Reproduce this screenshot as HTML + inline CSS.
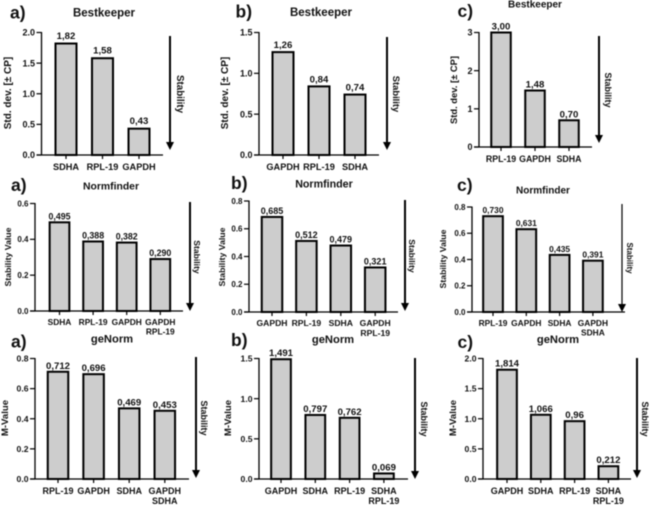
<!DOCTYPE html>
<html>
<head>
<meta charset="utf-8">
<style>
html,body{margin:0;padding:0;background:#fff;width:650px;height:505px;overflow:hidden}
svg{display:block;filter:blur(0.45px)}
text{font-family:"Liberation Sans",sans-serif;fill:#111}
</style>
</head>
<body>
<svg id="figure" xmlns="http://www.w3.org/2000/svg" width="650" height="505" viewBox="0 0 650 505"></svg>
<script>
// Chart data
const bestkeeperACategories = ["SDHA", "RPL-19", "GAPDH"];
const bestkeeperAValues = [1.82, 1.58, 0.43];
const bestkeeperALabels = ["1,82", "1,58", "0,43"];
const bestkeeperATicks = [0, 0.5, 1, 1.5, 2];
const bestkeeperATickLabels = ["0.0", "0.5", "1.0", "1.5", "2.0"];

const bestkeeperBCategories = ["GAPDH", "RPL-19", "SDHA"];
const bestkeeperBValues = [1.26, 0.84, 0.74];
const bestkeeperBLabels = ["1,26", "0,84", "0,74"];
const bestkeeperBTicks = [0, 0.5, 1, 1.5];
const bestkeeperBTickLabels = ["0.0", "0.5", "1.0", "1.5"];

const bestkeeperCCategories = ["RPL-19", "GAPDH", "SDHA"];
const bestkeeperCValues = [3.0, 1.48, 0.70];
const bestkeeperCLabels = ["3,00", "1,48", "0,70"];
const bestkeeperCTicks = [0, 1, 2, 3];
const bestkeeperCTickLabels = ["0", "1", "2", "3"];

const normfinderACategories = ["SDHA", "RPL-19", "GAPDH", "GAPDH|RPL-19"];
const normfinderAValues = [0.495, 0.388, 0.382, 0.290];
const normfinderALabels = ["0,495", "0,388", "0,382", "0,290"];
const normfinderATicks = [0, 0.2, 0.4, 0.6];
const normfinderATickLabels = ["0.0", "0.2", "0.4", "0.6"];

const normfinderBCategories = ["GAPDH", "RPL-19", "SDHA", "GAPDH|RPL-19"];
const normfinderBValues = [0.685, 0.512, 0.479, 0.321];
const normfinderBLabels = ["0,685", "0,512", "0,479", "0,321"];
const normfinderBTicks = [0, 0.2, 0.4, 0.6, 0.8];
const normfinderBTickLabels = ["0.0", "0.2", "0.4", "0.6", "0.8"];

const normfinderCCategories = ["RPL-19", "GAPDH", "SDHA", "GAPDH|SDHA"];
const normfinderCValues = [0.730, 0.631, 0.435, 0.391];
const normfinderCLabels = ["0,730", "0,631", "0,435", "0,391"];
const normfinderCTicks = [0, 0.2, 0.4, 0.6, 0.8];
const normfinderCTickLabels = ["0.0", "0.2", "0.4", "0.6", "0.8"];

const genormACategories = ["RPL-19", "GAPDH", "SDHA", "GAPDH|SDHA"];
const genormAValues = [0.712, 0.696, 0.469, 0.453];
const genormALabels = ["0,712", "0,696", "0,469", "0,453"];
const genormATicks = [0, 0.2, 0.4, 0.6, 0.8];
const genormATickLabels = ["0.0", "0.2", "0.4", "0.6", "0.8"];

const genormBCategories = ["GAPDH", "SDHA", "RPL-19", "SDHA|RPL-19"];
const genormBValues = [1.491, 0.797, 0.762, 0.069];
const genormBLabels = ["1,491", "0,797", "0,762", "0,069"];
const genormBTicks = [0, 0.5, 1, 1.5];
const genormBTickLabels = ["0.0", "0.5", "1.0", "1.5"];

const genormCCategories = ["GAPDH", "SDHA", "RPL-19", "SDHA|RPL-19"];
const genormCValues = [1.814, 1.066, 0.96, 0.212];
const genormCLabels = ["1,814", "1,066", "0,96", "0,212"];
const genormCTicks = [0, 0.5, 1, 1.5, 2];
const genormCTickLabels = ["0.0", "0.5", "1.0", "1.5", "2.0"];

// Panel definitions: data references plus layout
const panels = [
  {id:"bestkeeper-a",letter:"a)",title:"Bestkeeper",yTitle:"Std. dev. [± CP]",cats:bestkeeperACategories,vals:bestkeeperAValues,labels:bestkeeperALabels,ticks:bestkeeperATicks,tickLabels:bestkeeperATickLabels,
   ax:41.5,top:32.5,zero:155,right:163,first:66,step:36.5,barW:21,valGap:4.5,arrowX:170,arrowTop:36,arrowBot:150,stabX:177,stabY:94,yTitleX:11,yTitleY:93,titleX:104,titleY:16.5,letterX:10,letterY:18.5,catY:170,catLine:10,fsCat:9.2,fsVal:9.6,fsTick:9,fsTitle:11.5,fsY:10,fsStab:9.8,arrowSW:2},
  {id:"bestkeeper-b",letter:"b)",title:"Bestkeeper",yTitle:"Std. dev. [± CP]",cats:bestkeeperBCategories,vals:bestkeeperBValues,labels:bestkeeperBLabels,ticks:bestkeeperBTicks,tickLabels:bestkeeperBTickLabels,
   ax:259,top:32.5,zero:155,right:379,first:283,step:36,barW:21,valGap:4,arrowX:387,arrowTop:37,arrowBot:150,stabX:393,stabY:94,yTitleX:228,yTitleY:93,titleX:321,titleY:16,letterX:235.5,letterY:17.5,catY:170,catLine:10,fsCat:9.2,fsVal:9.6,fsTick:9,fsTitle:11.5,fsY:10,fsStab:9.4,arrowSW:2},
  {id:"bestkeeper-c",letter:"c)",title:"Bestkeeper",yTitle:"Std. dev. [± CP]",cats:bestkeeperCCategories,vals:bestkeeperCValues,labels:bestkeeperCLabels,ticks:bestkeeperCTicks,tickLabels:bestkeeperCTickLabels,
   ax:479,top:32.5,zero:147,right:592,first:501,step:34,barW:19.5,valGap:3,arrowX:599,arrowTop:36,arrowBot:143,stabX:605,stabY:90,yTitleX:457,yTitleY:90,titleX:535,titleY:7.5,letterX:457.5,letterY:17,catY:162,catLine:10,fsCat:8.8,fsVal:9.6,fsTick:9,fsTitle:10,fsY:9.4,fsStab:9,arrowSW:2},
  {id:"normfinder-a",letter:"a)",title:"Normfinder",yTitle:"Stability Value",cats:normfinderACategories,vals:normfinderAValues,labels:normfinderALabels,ticks:normfinderATicks,tickLabels:normfinderATickLabels,
   ax:35,top:203.5,zero:311,right:183,first:59.5,step:33.6,barW:19.7,valGap:3,arrowX:190,arrowTop:202,arrowBot:311,stabX:194,stabY:257,yTitleX:11,yTitleY:257,titleX:111,titleY:189.5,letterX:11,letterY:191,catY:325,catLine:9.5,fsCat:8.4,fsVal:8.8,fsTick:8,fsTitle:10.4,fsY:8.7,fsStab:8.6,arrowSW:2},
  {id:"normfinder-b",letter:"b)",title:"Normfinder",yTitle:"Stability Value",cats:normfinderBCategories,vals:normfinderBValues,labels:normfinderBLabels,ticks:normfinderBTicks,tickLabels:normfinderBTickLabels,
   ax:249,top:201,zero:312,right:398,first:272,step:34.4,barW:20.5,valGap:3,arrowX:405,arrowTop:200,arrowBot:311,stabX:409,stabY:256,yTitleX:225,yTitleY:257,titleX:324,titleY:187.5,letterX:231,letterY:189,catY:326,catLine:10,fsCat:8.6,fsVal:9,fsTick:8,fsTitle:10.7,fsY:8.7,fsStab:8.6,arrowSW:2},
  {id:"normfinder-c",letter:"c)",title:"Normfinder",yTitle:"Stability Value",cats:normfinderCCategories,vals:normfinderCValues,labels:normfinderCLabels,ticks:normfinderCTicks,tickLabels:normfinderCTickLabels,
   ax:472,top:207,zero:312,right:625,first:493,step:33.3,barW:19.7,valGap:3,arrowX:622,arrowTop:204,arrowBot:312,stabX:627,stabY:258,yTitleX:446,yTitleY:259,titleX:543,titleY:193.5,letterX:457,letterY:191,catY:326,catLine:9.5,fsCat:8.4,fsVal:8.4,fsTick:8,fsTitle:10,fsY:8.7,fsStab:8,arrowSW:1.2},
  {id:"genorm-a",letter:"a)",title:"geNorm",yTitle:"M-Value",cats:genormACategories,vals:genormAValues,labels:genormALabels,ticks:genormATicks,tickLabels:genormATickLabels,
   ax:35,top:358.5,zero:479,right:189,first:58,step:35.6,barW:20.5,valGap:3,arrowX:196,arrowTop:357,arrowBot:478,stabX:201,stabY:418,yTitleX:8,yTitleY:418,titleX:112,titleY:342.5,letterX:11,letterY:347.5,catY:494,catLine:10,fsCat:9,fsVal:9.6,fsTick:8.6,fsTitle:11.2,fsY:9.6,fsStab:9,arrowSW:2},
  {id:"genorm-b",letter:"b)",title:"geNorm",yTitle:"M-Value",cats:genormBCategories,vals:genormBValues,labels:genormBLabels,ticks:genormBTicks,tickLabels:genormBTickLabels,
   ax:259,top:358.5,zero:479,right:408,first:281,step:34.3,barW:19.7,valGap:3,arrowX:415,arrowTop:358,arrowBot:479,stabX:421,stabY:419,yTitleX:231,yTitleY:418,titleX:333,titleY:343,letterX:231,letterY:346,catY:494,catLine:10,fsCat:9,fsVal:9.6,fsTick:8.6,fsTitle:11.2,fsY:9.6,fsStab:9,arrowSW:2},
  {id:"genorm-c",letter:"c)",title:"geNorm",yTitle:"M-Value",cats:genormCCategories,vals:genormCValues,labels:genormCLabels,ticks:genormCTicks,tickLabels:genormCTickLabels,
   ax:483,top:358.5,zero:479,right:631,first:507,step:33.8,barW:19.7,valGap:3,arrowX:637,arrowTop:358,arrowBot:478,stabX:642,stabY:419,yTitleX:456,yTitleY:418,titleX:558,titleY:343,letterX:457.5,letterY:348,catY:494,catLine:10,fsCat:9,fsVal:9.6,fsTick:8.6,fsTitle:11.2,fsY:9.6,fsStab:9,arrowSW:2}
];

const NS = "http://www.w3.org/2000/svg";
const figure = document.getElementById("figure");

function make(tag, parent, attrs, content) {
  const el = document.createElementNS(NS, tag);
  for (const k in attrs) el.setAttribute(k, attrs[k]);
  if (content !== undefined) el.textContent = content;
  parent.appendChild(el);
  return el;
}

function drawPanel(p) {
  const maxTick = p.ticks[p.ticks.length - 1];
  const yScale = v => p.zero - (v / maxTick) * (p.zero - p.top);
  const xScale = i => p.first + i * p.step;

  const g = make("g", figure, {});
  
  

  const letter = make("text", g, {x:p.letterX, y:p.letterY, "font-size":17.5, "font-weight":"bold"}, p.letter);
  
  

  const title = make("text", g, {x:p.titleX, y:p.titleY, "font-size":p.fsTitle, "font-weight":"bold", "text-anchor":"middle"}, p.title);
  
  

  const yTitle = make("text", g, {transform:"translate(" + p.yTitleX + "," + p.yTitleY + ") rotate(-90)", "font-size":p.fsY, "font-weight":"bold", "text-anchor":"middle"}, p.yTitle);
  
  

  p.vals.forEach((v, i) => {
    const top = yScale(v);
    const bar = make("rect", g, {x:xScale(i) - p.barW / 2, y:top, width:p.barW, height:p.zero - top, fill:"#cdcdcd", stroke:"#000", "stroke-width":2});
    
    

    const valueLabel = make("text", g, {x:xScale(i), y:top - p.valGap, "font-size":p.fsVal, "font-weight":"bold", "text-anchor":"middle"}, p.labels[i]);
    
    

    const xTick = make("line", g, {x1:xScale(i), x2:xScale(i), y1:p.zero, y2:p.zero + 4, stroke:"#000", "stroke-width":1.2});
    
    

    p.cats[i].split("|").forEach((line, j) => {
      const cat = make("text", g, {x:xScale(i), y:p.catY + j * p.catLine, "font-size":p.fsCat, "font-weight":"bold", "text-anchor":"middle"}, line);
      
      
    });
  });

  const yAxis = make("line", g, {x1:p.ax, x2:p.ax, y1:p.top - 0.5, y2:p.zero + 0.5, stroke:"#000", "stroke-width":1.3});
  
  

  const xAxis = make("line", g, {x1:p.ax - 5, x2:p.right, y1:p.zero, y2:p.zero, stroke:"#000", "stroke-width":1.3});
  
  

  p.ticks.forEach((t, i) => {
    const y = yScale(t);
    const tick = make("line", g, {x1:p.ax - 5, x2:p.ax, y1:y, y2:y, stroke:"#000", "stroke-width":1.2});
    
    

    const tickLabel = make("text", g, {x:p.ax - 6.5, y:y + p.fsTick * 0.36, "font-size":p.fsTick, "font-weight":"bold", "text-anchor":"end"}, p.tickLabels[i]);
    
    
  });

  const arrowLine = make("line", g, {x1:p.arrowX, x2:p.arrowX, y1:p.arrowTop, y2:p.arrowBot - 6, stroke:"#000", "stroke-width":p.arrowSW});
  
  

  const arrowHead = make("polygon", g, {points:(p.arrowX - 4) + "," + (p.arrowBot - 8) + " " + (p.arrowX + 4) + "," + (p.arrowBot - 8) + " " + p.arrowX + "," + p.arrowBot, fill:"#000"});
  
  

  const stability = make("text", g, {transform:"translate(" + p.stabX + "," + p.stabY + ") rotate(90)", "font-size":p.fsStab, "font-weight":"bold", "text-anchor":"middle"}, "Stability");
  
  
}

panels.forEach(drawPanel);
</script>
</body>
</html>
